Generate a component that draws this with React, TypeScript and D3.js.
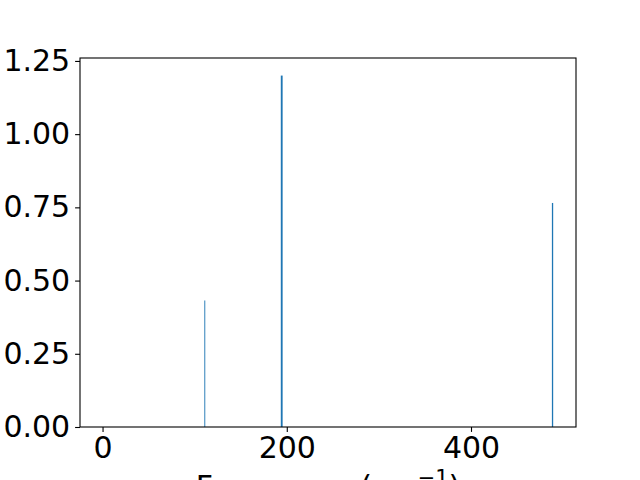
import React, { useEffect, useRef } from "react";
import * as d3 from "d3";

// peak positions (cm^-1) and intensities
const frequencies = [0, 111, 194.5, 488.5];
const intensities = [0, 0.432, 1.2, 0.765];
const binWidths = [1, 1, 2, 1.4];
const xTicks = [0, 200, 400];
const yTicks = [0, 0.25, 0.5, 0.75, 1.0, 1.25];

const App = () => {
  const svgRef = useRef<SVGSVGElement>(null);

  useEffect(() => {
    const w = 640;
    const h = 480;
    const m = { left: 80, right: 64, top: 58, bottom: 53 };
    const svg = d3.select(svgRef.current).attr("width", w).attr("height", h);
    svg.selectAll("*").remove();

    // 5% margins on x like matplotlib, data range taken from the bins
    const xMin = 0;
    const xMax = 489.5;
    const pad = (xMax - xMin) * 0.05;
    const x = d3
      .scaleLinear()
      .domain([xMin - pad, xMax + pad])
      .range([m.left, w - m.right]);
    const y = d3
      .scaleLinear()
      .domain([0, d3.max(intensities)! * 1.05])
      .range([h - m.bottom, m.top]);

    svg
      .append("rect")
      .attr("width", w)
      .attr("height", h)
      .attr("fill", "#fff");

    // bars
    svg
      .selectAll(".bar")
      .data(frequencies)
      .join("rect")
      .attr("x", (d, i) => x(d - binWidths[i] / 2))
      .attr("width", (d, i) => x(binWidths[i]) - x(0))
      .attr("y", (d, i) => y(intensities[i]))
      .attr("height", (d, i) => y(0) - y(intensities[i]))
      .attr("fill", "#1f77b4");

    // axes
    const font = "DejaVu Sans, sans-serif";
    const fs = "30px";
    const xAxis = d3
      .axisBottom(x)
      .tickValues(xTicks)
      .tickSize(4.9)
      .tickPadding(4.9)
      .tickFormat(d3.format("d"));
    const yAxis = d3
      .axisLeft(y)
      .tickValues(yTicks)
      .tickSize(4.9)
      .tickPadding(4.9)
      .tickFormat(d3.format(".2f"));

    const gx = svg
      .append("g")
      .attr("transform", `translate(0,${h - m.bottom})`)
      .call(xAxis);
    const gy = svg
      .append("g")
      .attr("transform", `translate(${m.left},0)`)
      .call(yAxis);

    [gx, gy].forEach((g) => {
      g.select(".domain").remove();
      g.selectAll("line").attr("stroke", "#000").attr("stroke-width", 1.1);
      g.selectAll("text")
        .attr("fill", "#000")
        .style("font-family", font)
        .style("font-size", fs);
    });

    // frame
    svg
      .append("rect")
      .attr("x", m.left)
      .attr("y", m.top)
      .attr("width", w - m.left - m.right)
      .attr("height", h - m.top - m.bottom)
      .attr("fill", "none")
      .attr("stroke", "#000")
      .attr("stroke-width", 1.1);

    // x label (runs past the bottom edge, as in the original)
    const label = svg
      .append("text")
      .attr("x", (m.left + w - m.right) / 2)
      .attr("y", 497)
      .attr("text-anchor", "middle")
      .style("font-family", font)
      .style("font-size", fs)
      .attr("fill", "#000");
    label.append("tspan").text("Frequency (cm");
    label
      .append("tspan")
      .attr("dy", -12)
      .style("font-size", "21px")
      .text("−1");
    label.append("tspan").attr("dy", 12).text(")");
  }, []);

  return (
    <div>
      <svg
        ref={svgRef}
        style={{ position: "absolute", left: 0, top: 0, display: "block" }}
      ></svg>
    </div>
  );
};

export default App;
